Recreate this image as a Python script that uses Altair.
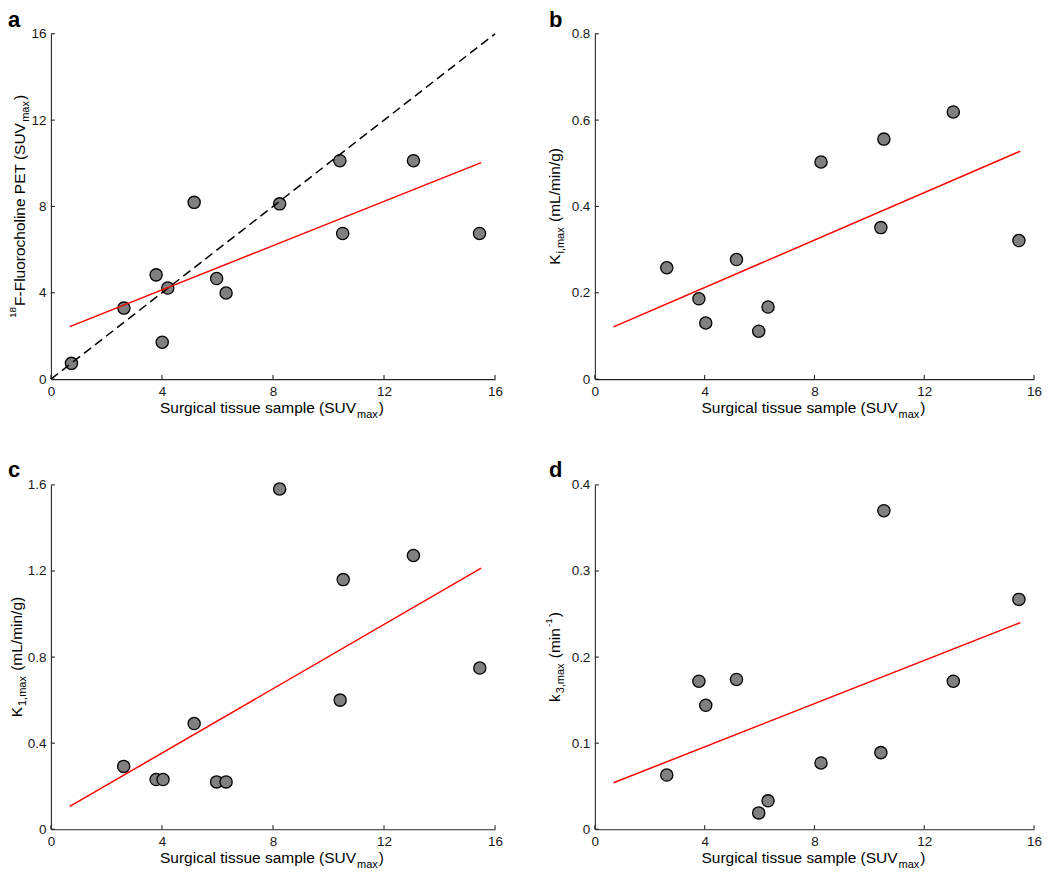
import altair as alt
import pandas as pd

# ---------------- data ----------------
surgical_a = [0.74, 2.63, 3.79, 4.01, 4.21, 5.16, 5.97, 6.31, 8.24, 10.41, 10.51, 13.06, 15.44]
pet_suv_a = [0.73, 3.29, 4.83, 1.71, 4.22, 8.19, 4.66, 3.99, 8.12, 10.12, 6.75, 10.12, 6.75]

surgical_bcd = [2.62, 3.79, 4.04, 5.16, 5.97, 6.31, 8.24, 10.42, 10.53, 13.06, 15.45]
ki_max = [0.258, 0.186, 0.130, 0.277, 0.111, 0.167, 0.503, 0.351, 0.556, 0.619, 0.321]
k1_max = [0.292, 0.231, 0.231, 0.491, 0.220, 0.220, 1.581, 0.600, 1.160, 1.272, 0.749]
k3_max = [0.063, 0.172, 0.144, 0.174, 0.019, 0.033, 0.077, 0.089, 0.370, 0.172, 0.267]

fit_x = [0.68, 15.5]
fit_a = [2.43, 10.03]
fit_b = [0.121, 0.528]
fit_c = [0.106, 1.213]
fit_d = [0.054, 0.240]
identity_xy = [0, 16]

x_ticks = [0, 4, 8, 12, 16]
y_ticks_a = [0, 4, 8, 12, 16]
y_ticks_b = [0, 0.2, 0.4, 0.6, 0.8]
y_ticks_c = [0, 0.4, 0.8, 1.2, 1.6]
y_ticks_d = [0, 0.1, 0.2, 0.3, 0.4]

panel_labels = ["a", "b", "c", "d"]
x_title_parts = ["Surgical tissue sample (SUV", "max", ")"]
y_title_a = ["18", "F-Fluorocholine PET (SUV", "max", ")"]
y_title_b = ["K", "i,max", " (mL/min/g)"]
y_title_c = ["K", "1,max", " (mL/min/g)"]
y_title_d = ["k", "3,max", " (min", "-1", ")"]

# ---------------- styling ----------------
FONT = "Liberation Sans"
MAIN, SUB, SUP = 15.5, 11, 10
GAP = 1.0
AXIS_COLOR = "#262626"

ARIAL = {' ': 278, '(': 333, ')': 333, ',': 278, '-': 333, '.': 278, '/': 278,
         'E': 667, 'F': 611, 'K': 667, 'L': 556, 'P': 667, 'S': 667, 'T': 611,
         'U': 722, 'V': 667, 'a': 556, 'c': 500, 'e': 556, 'g': 556, 'h': 556,
         'i': 222, 'k': 500, 'l': 222, 'm': 833, 'n': 556, 'o': 556, 'p': 556,
         'r': 333, 's': 500, 't': 278, 'u': 556, 'x': 500}


def tw(s, size):
    return sum(ARIAL.get(c, 556) for c in s) * size / 1000.0


def text_layer(txt, x, y, size, angle=0, bold=False):
    return alt.Chart(pd.DataFrame({"_": [0]})).mark_text(
        text=txt, font=FONT, fontSize=size,
        fontWeight="bold" if bold else "normal",
        align="left", baseline="alphabetic", angle=angle, color="black",
    ).encode(x=alt.value(x), y=alt.value(y))


def seg_total(parts, styles):
    return sum(tw(s, sz) for s, (sz, _) in zip(parts, styles)) + GAP * (len(parts) - 1)


def x_title(W, H, parts, styles):
    total = seg_total(parts, styles)
    x0 = W / 2 - 1 - total / 2
    cum = 0
    out = []
    for s, (sz, sh) in zip(parts, styles):
        if s.startswith(" "):
            cum += tw(" ", sz)
            s = s[1:]
        out.append(text_layer(s, x0 + cum, H + 34 + sh, sz))
        cum += tw(s, sz) + GAP
    return out


def y_title(H, base_x, parts, styles):
    total = seg_total(parts, styles)
    y0 = H / 2 + total / 2
    cum = 0
    out = []
    for s, (sz, sh) in zip(parts, styles):
        if s.startswith(" "):
            cum += tw(" ", sz)
            s = s[1:]
        out.append(text_layer(s, base_x + sh, y0 - cum, sz, angle=270))
        cum += tw(s, sz) + GAP
    return out


def panel(W, H, xs, ys, fit_y, yticks, ytitle_parts, ytitle_styles, ytitle_x,
          label, label_x, label_y, identity=False):
    xscale = alt.Scale(domain=[0, 16], nice=False, zero=False)
    yscale = alt.Scale(domain=[yticks[0], yticks[-1]], nice=False, zero=False)
    common = dict(title=None, ticks=False, tickSize=0, grid=False, labelFont=FONT,
                  labelFontSize=13.5, labelColor="#1a1a1a", domainColor=AXIS_COLOR,
                  domainWidth=1.1, labelFlush=False, labelOverlap=False, format="~g")
    xaxis = alt.Axis(values=x_ticks, labelPadding=5.5, **common)
    yaxis = alt.Axis(values=yticks, labelPadding=5, **common)
    X = alt.X("x:Q", scale=xscale, axis=xaxis)
    Y = alt.Y("y:Q", scale=yscale, axis=yaxis)

    layers = []
    layers.append(alt.Chart(pd.DataFrame({"x": x_ticks})).mark_rule(
        color=AXIS_COLOR, strokeWidth=1.1).encode(x=X, y=alt.value(H), y2=alt.value(H - 4)))
    layers.append(alt.Chart(pd.DataFrame({"y": yticks})).mark_rule(
        color=AXIS_COLOR, strokeWidth=1.1).encode(y=Y, x=alt.value(0), x2=alt.value(4)))
    layers.append(alt.Chart(pd.DataFrame({"x": xs, "y": ys})).mark_point(
        shape="circle", filled=True, fill="#808080", stroke="black", strokeWidth=1.3,
        size=150, opacity=1).encode(x=X, y=Y))
    if identity:
        layers.append(alt.Chart(pd.DataFrame({"x": identity_xy, "y": identity_xy})).mark_line(
            color="black", strokeWidth=1.5, strokeDash=[9, 5]).encode(x=X, y=Y))
    layers.append(alt.Chart(pd.DataFrame({"x": fit_x, "y": fit_y})).mark_line(
        color="#ff0000", strokeWidth=1.5).encode(x=X, y=Y))

    layers += x_title(W, H, x_title_parts, [(MAIN, 0), (SUB, 5), (MAIN, 0)])
    layers += y_title(H, ytitle_x, ytitle_parts, ytitle_styles)
    layers.append(text_layer(label, label_x, label_y, 22, bold=True))
    return alt.layer(*layers).properties(width=W, height=H)


pa = panel(445, 346, surgical_a, pet_suv_a, fit_a, y_ticks_a, y_title_a,
           [(SUP, -9), (MAIN, 0), (SUB, 4.5), (MAIN, 0)], -26,
           panel_labels[0], -43, -7, identity=True)
pb = panel(440, 346, surgical_bcd, ki_max, fit_b, y_ticks_b, y_title_b,
           [(MAIN, 0), (SUB, 4.5), (MAIN, 0)], -35, panel_labels[1], -46, -7)
pc = panel(445, 345, surgical_bcd, k1_max, fit_c, y_ticks_c, y_title_c,
           [(MAIN, 0), (SUB, 4.5), (MAIN, 0)], -29, panel_labels[2], -43, -8)
pd_ = panel(440, 345, surgical_bcd, k3_max, fit_d, y_ticks_d, y_title_d,
            [(MAIN, 0), (SUB, 4.5), (MAIN, 0), (SUP, -8), (MAIN, 0)], -35,
            panel_labels[3], -46, -8)

chart = alt.concat(
    pa, pb, pc, pd_, columns=2,
    spacing=alt.RowColnumber(row=106, column=100),
    bounds="flush",
).properties(padding=0).configure_view(stroke=None)

chart.save("out.html", embed_options={"renderer": "svg", "actions": False})
